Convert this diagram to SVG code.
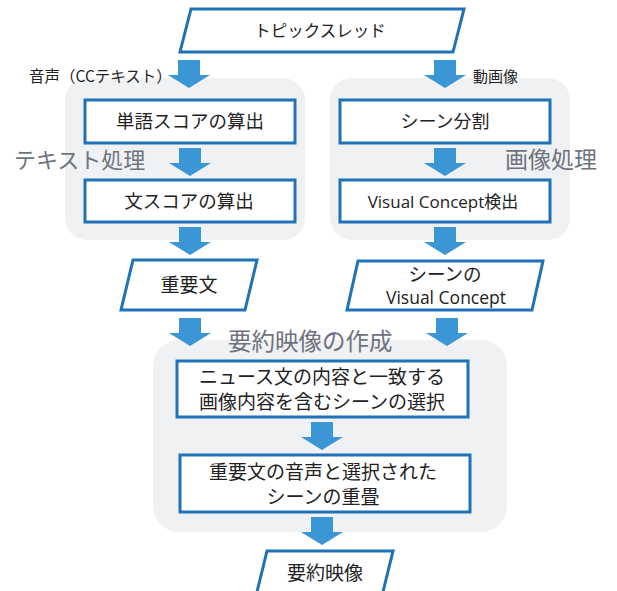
<svg xmlns="http://www.w3.org/2000/svg" xmlns:xlink="http://www.w3.org/1999/xlink" width="617" height="591" viewBox="0 0 617 591">
<style>
.panel{fill:#f0f1f3;stroke:none}
.box{fill:#ffffff;stroke:#1f72b8;stroke-width:3}
.t{font-family:"Noto Sans CJK JP","Noto Sans",sans-serif;fill:#222222;text-anchor:middle}
.lat{font-family:"Open Sans","Noto Sans CJK JP",sans-serif}
.lbl{font-family:"Noto Sans CJK JP","Noto Sans",sans-serif;fill:#6e737f}
.dark{fill:#222222}
.arr{fill:#3a96d4}
</style>
<defs>
<path id="ar" d="M-11,0 H11 V15 H21 L0,28 L-21,15 H-11 Z"/>
</defs>
<rect width="617" height="591" fill="#ffffff"/>
<g id="panel-text"><rect class="panel" x="65" y="78" width="240" height="162" rx="22"/></g>
<g id="panel-image"><rect class="panel" x="330" y="78" width="240" height="162" rx="22"/></g>
<g id="panel-summary"><rect class="panel" x="153" y="340" width="354" height="192" rx="26"/></g>

<g id="connectors">
<use href="#ar" class="arr" x="189" y="60"/>
<use href="#ar" class="arr" x="445" y="60"/>
<use href="#ar" class="arr" x="190" y="148"/>
<use href="#ar" class="arr" x="445" y="148"/>
<use href="#ar" class="arr" x="190" y="227"/>
<use href="#ar" class="arr" x="445" y="227"/>
<use href="#ar" class="arr" x="190" y="318"/>
<use href="#ar" class="arr" x="447" y="318"/>
<use href="#ar" class="arr" x="322" y="422"/>
<use href="#ar" class="arr" x="322" y="517"/>
</g>

<g id="topic-thread">
<polygon class="box" points="191,9 464,9 453,52 180,52"/>
<text class="t" x="320" y="37" font-size="16.5">トピックスレッド</text>
</g>
<g id="label-audio"><text class="lbl dark" x="29" y="82" font-size="15.5">音声（CCテキスト）</text></g>
<g id="label-video"><text class="lbl dark" x="473" y="82" font-size="15">動画像</text></g>
<g id="label-textproc"><text class="lbl" x="14" y="168" font-size="22">テキスト処理</text></g>
<g id="label-imgproc"><text class="lbl" x="505" y="168" font-size="23">画像処理</text></g>
<g id="label-summary"><text class="lbl" x="228" y="350" font-size="23.5">要約映像の作成</text></g>

<g id="word-score">
<rect class="box" x="85" y="100" width="210" height="43"/>
<text class="t" x="190" y="128" font-size="18.5">単語スコアの算出</text>
</g>
<g id="sentence-score">
<rect class="box" x="85" y="180" width="210" height="42"/>
<text class="t" x="189" y="208" font-size="18.5">文スコアの算出</text>
</g>
<g id="scene-split">
<rect class="box" x="340" y="100" width="210" height="43"/>
<text class="t" x="445" y="128" font-size="18">シーン分割</text>
</g>
<g id="vc-detect">
<rect class="box" x="340" y="180" width="210" height="42"/>
<text class="t" x="443" y="208" font-size="17"><tspan class="lat">Visual Concept</tspan>検出</text>
</g>
<g id="important-sentence">
<polygon class="box" points="133,260 257,260 245,310 121,310"/>
<text class="t" x="189" y="292" font-size="19">重要文</text>
</g>
<g id="scene-vc">
<polygon class="box" points="358,261 543,261 532,310 347,310"/>
<text class="t" x="445" y="281" font-size="18.5">シーンの</text>
<text class="t lat" x="446" y="304" font-size="17.5">Visual Concept</text>
</g>
<g id="select-scene">
<rect class="box" x="177" y="361" width="291" height="56"/>
<text class="t" x="322" y="384" font-size="19">ニュース文の内容と一致する</text>
<text class="t" x="322" y="409" font-size="19">画像内容を含むシーンの選択</text>
</g>
<g id="overlay">
<rect class="box" x="180" y="455" width="290" height="57"/>
<text class="t" x="323" y="479" font-size="19">重要文の音声と選択された</text>
<text class="t" x="323" y="504" font-size="19">シーンの重畳</text>
</g>
<g id="summary-video">
<polygon class="box" points="267,551 393,551 382,596 256,596"/>
<text class="t" x="325" y="580" font-size="19">要約映像</text>
</g>
</svg>
